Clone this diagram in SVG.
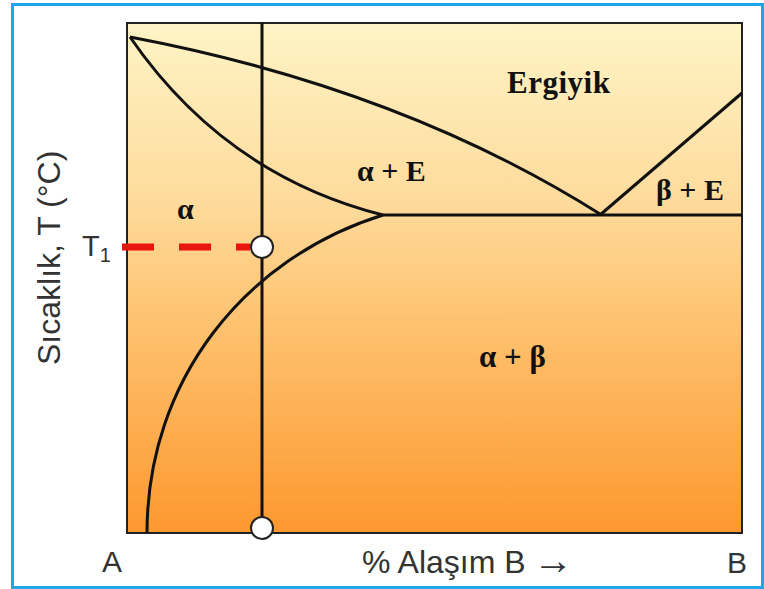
<svg xmlns="http://www.w3.org/2000/svg" width="764" height="589" viewBox="0 0 764 589">
<defs>
<linearGradient id="bg" x1="0" y1="0" x2="0" y2="1">
<stop offset="0" stop-color="#fef4c6"/>
<stop offset="0.35" stop-color="#fedb9c"/>
<stop offset="0.55" stop-color="#fec676"/>
<stop offset="1" stop-color="#fd982f"/>
</linearGradient>
<style>
.ln{fill:none;stroke:#111;stroke-width:3}
.lbl{font-family:"Liberation Serif","Times New Roman",serif;font-weight:bold;fill:#111}
.ax{font-family:"Liberation Sans",Arial,sans-serif;fill:#333}
.pt{fill:#fff;stroke:#222;stroke-width:2}
</style>
</defs>
<rect x="0" y="0" width="764" height="589" fill="#fff"/>
<rect x="12.5" y="4.5" width="750" height="583" fill="#fff" stroke="#1ea5ec" stroke-width="3"/>
<g id="plot">
<rect x="127" y="23" width="615" height="510" fill="url(#bg)" stroke="#222" stroke-width="2"/>
</g>
<g id="connectors">
<path class="ln" d="M130,37 Q400,88 600,214"/>
<path class="ln" d="M130,37 Q225,175 383,215"/>
<path class="ln" d="M383,215 L742,215"/>
<path class="ln" d="M600,215 L742,93"/>
<path class="ln" d="M383,215 C245,258 147,380 147,533"/>
<path class="ln" d="M262,23 L262,528"/>
<path d="M122,247 L250,247" fill="none" stroke="#e8150f" stroke-width="7" stroke-dasharray="32 25"/>
</g>
<g id="point-t1"><circle class="pt" cx="262" cy="247" r="11"/></g>
<g id="point-base"><circle class="pt" cx="262" cy="528" r="11"/></g>
<g id="labels">
<text class="lbl" x="507" y="93" font-size="31" letter-spacing="0.5">Ergiyik</text>
<text class="lbl" x="357" y="181" font-size="30">α + E</text>
<text class="lbl" x="656" y="200" font-size="30">β + E</text>
<text class="lbl" x="177" y="219" font-size="30">α</text>
<text class="lbl" x="479" y="367" font-size="31">α + β</text>
</g>
<g id="axes">
<text class="ax" transform="translate(60,365) rotate(-90)" font-size="32">Sıcaklık, T (°C)</text>
<text class="ax" x="82" y="256" font-size="29">T<tspan font-size="20" dy="6">1</tspan></text>
<text class="ax" x="102" y="572" font-size="30">A</text>
<text class="ax" x="362" y="573" font-size="32">% Alaşım B<tspan x="533" dy="1" font-size="40">→</tspan></text>
<text class="ax" x="727" y="573" font-size="30">B</text>
</g>
</svg>
